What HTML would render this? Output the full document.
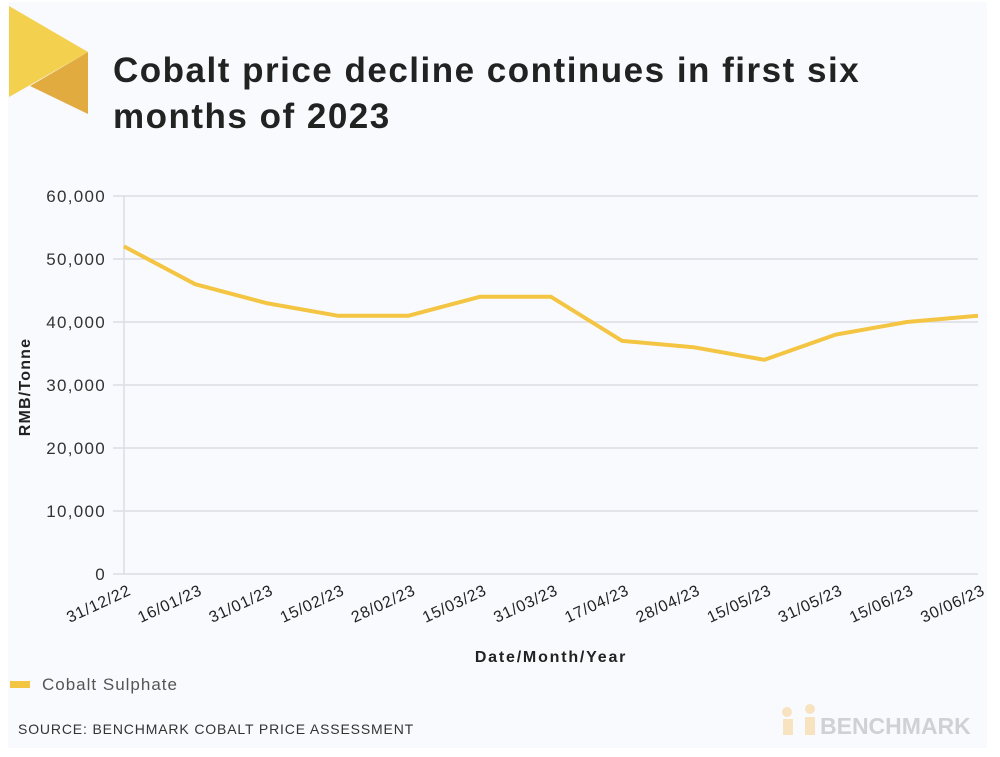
<!DOCTYPE html>
<html><head><meta charset="utf-8"><style>
body{margin:0;background:#fff;width:1000px;height:757px;overflow:hidden;font-family:"Liberation Sans",sans-serif}
#card{position:absolute;left:8px;top:2px;width:979px;height:746px;background:#f9fafe}
</style></head><body>
<div id="card"></div>
<svg id="chart" width="1000" height="757" style="position:absolute;left:0;top:0">
<polygon points="9,6 88,52 9,97" fill="#f4d04f"/>
<polygon points="88,52 88,114 30,86" fill="#e2ab40"/>
<text x="113" y="82" font-size="35" font-weight="bold" fill="#222" letter-spacing="1.5">Cobalt price decline continues in first six</text>
<text x="113" y="128" font-size="35" font-weight="bold" fill="#222" letter-spacing="1.5">months of 2023</text>
<g id="grid"></g><g id="yticks"></g><g id="xticks"></g>
<line x1="124" y1="196" x2="124" y2="574" stroke="#dcdde3" stroke-width="1.5"/>
<path id="line" fill="none" stroke="#f4c542" stroke-width="4" stroke-linejoin="round"/>
<text transform="translate(30,387) rotate(-90)" text-anchor="middle" font-size="16" font-weight="bold" fill="#222" letter-spacing="1.2">RMB/Tonne</text>
<text x="551" y="662" text-anchor="middle" font-size="16" font-weight="bold" fill="#222" letter-spacing="1.8">Date/Month/Year</text>
<rect x="10" y="681" width="20" height="7" fill="#f4c542"/>
<text x="42" y="690" font-size="17" fill="#555" letter-spacing="1">Cobalt Sulphate</text>
<text x="18" y="734" font-size="14" fill="#333" letter-spacing="0.85">SOURCE: BENCHMARK COBALT PRICE ASSESSMENT</text>
<g>
<circle cx="787" cy="712" r="5" fill="#f7e3bf"/><circle cx="810" cy="709" r="5" fill="#f7e3bf"/>
<rect x="783" y="719" width="10" height="16" fill="#f7e3bf"/><rect x="805" y="717" width="10" height="18" fill="#f7e3bf"/>
<text x="820" y="734" font-size="23" font-weight="bold" fill="#d0d1d5">BENCHMARK</text></g>
</svg>
<script>
const categories=["31/12/22","16/01/23","31/01/23","15/02/23","28/02/23","15/03/23","31/03/23","17/04/23","28/04/23","15/05/23","31/05/23","15/06/23","30/06/23"];
const values=[52000,46000,43000,41000,41000,44000,44000,37000,36000,34000,38000,40000,41000];
const yTicks=[0,10000,20000,30000,40000,50000,60000];
const NS="http://www.w3.org/2000/svg";
const x0=124,x1=978,yTop=196,yBot=574,yMax=60000;
const xs=i=>x0+i*(x1-x0)/(categories.length-1);
const ys=v=>yBot-v/yMax*(yBot-yTop);
const mk=(t,a,p)=>{const e=document.createElementNS(NS,t);for(const k in a)e.setAttribute(k,a[k]);document.getElementById(p).appendChild(e);return e;};
yTicks.forEach(v=>{
 const l=mk('line',{x1:113,x2:x1,y1:ys(v),y2:ys(v),stroke:'#dcdde3','stroke-width':1.5},'grid');
 
 
 const t=mk('text',{x:106,y:ys(v)+6,'text-anchor':'end','font-size':17,'letter-spacing':1.3,fill:'#333'},'yticks');
 t.textContent=v.toLocaleString('en-US');
 
 
});
categories.forEach((c,i)=>{
 const t=mk('text',{transform:`translate(${xs(i)+8},${594}) rotate(-25)`,'text-anchor':'end','font-size':16,'letter-spacing':0.8,fill:'#222'},'xticks');
 t.textContent=c;
 
 
});
document.getElementById('line').setAttribute('d',values.map((v,i)=>(i?'L':'M')+xs(i)+','+ys(v)).join(' '));
</script>
</body></html>
